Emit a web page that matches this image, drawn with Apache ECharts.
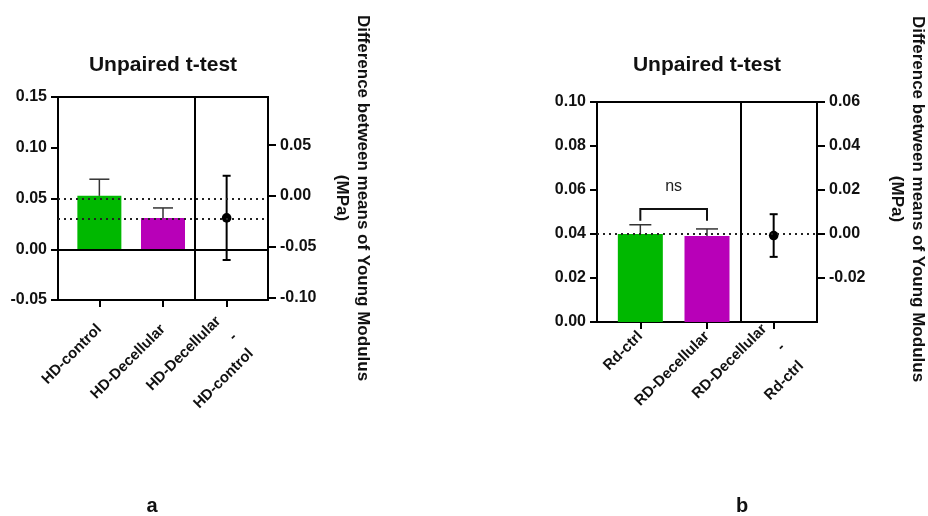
<!DOCTYPE html>
<html>
<head>
<meta charset="utf-8">
<title>Unpaired t-test</title>
<script src="https://cdn.jsdelivr.net/npm/echarts@6/dist/echarts.min.js"></script>
<style>
  html, body { margin: 0; padding: 0; background: #ffffff; }
  #chart-container { width: 928px; height: 516px; }
</style>
</head>
<body>
<div id="chart-container"></div>
<script>
// ---- data ----
// panel a
var panelACategories = ['HD-control', 'HD-Decellular', 'HD-Decellular\n-\nHD-control'];
var panelAMeans = [0.0526, 0.0309];
var panelAErrors = [0.0164, 0.0098];
var panelADiff = [-0.0217];
var panelADiffCI = [0.0415];
var panelALeftRange = [-0.05, 0.15];
var panelALeftStep = 0.05;
var panelARightTicks = [-0.10, -0.05, 0.00, 0.05];

// panel b
var panelBCategories = ['Rd-ctrl', 'RD-Decellular', 'RD-Decellular\n-\nRd-ctrl'];
var panelBMeans = [0.0400, 0.0391];
var panelBErrors = [0.0042, 0.0032];
var panelBDiff = [-0.0007];
var panelBDiffCI = [0.0097];
var panelBLeftRange = [0, 0.10];
var panelBLeftStep = 0.02;
var panelBRightTicks = [-0.02, 0.00, 0.02, 0.04, 0.06];
var panelBSigPair = [0, 1];
var panelBSigLevel = [0.046, 0.0514];
var panelBSigText = 'ns';

var axisTitle = 'Difference between means of Young Modulus\n(MPa)';
var FONT = 'Arial, "Liberation Sans", Helvetica, sans-serif';
var GREEN = '#00b800';
var MAGENTA = '#b800b8';

var dom = document.getElementById('chart-container');
var myChart = echarts.init(dom, null, { renderer: 'canvas' });

function fmt(v) {
  if (Math.abs(v) < 1e-9) return '0.00';
  return v.toFixed(2);
}

// group axis: one axis per set of labels so the long difference label
// is not dropped by overlap handling
function xCat(grid, cats, positions, margin, lineH, showLine) {
  return {
    type: 'value', gridIndex: grid, position: 'bottom', min: -0.65, max: 2.65,
    axisLine: { show: showLine, onZero: false, lineStyle: { color: '#000', width: 2 } },
    axisTick: { show: true, customValues: positions, length: 7, lineStyle: { color: '#000', width: 2 } },
    axisLabel: {
      customValues: positions, rotate: 45, margin: margin,
      showMinLabel: true, showMaxLabel: true,
      color: '#111', fontSize: 15, fontWeight: 'bold', fontFamily: FONT, lineHeight: lineH,
      formatter: function (v) {
        var s = cats[Math.round(v)];
        return s.indexOf('\n') >= 0 ? '\n' + s : s;
      }
    },
    splitLine: { show: false }
  };
}

function leftAxis(grid, range, step) {
  return {
    type: 'value', gridIndex: grid, position: 'left',
    min: range[0], max: range[1], interval: step,
    axisLine: { show: true, onZero: false, lineStyle: { color: '#000', width: 2 } },
    axisTick: { show: true, length: 7, lineStyle: { color: '#000', width: 2 } },
    axisLabel: { margin: 11, showMinLabel: true, showMaxLabel: true, color: '#111', fontSize: 16, fontWeight: 'bold', fontFamily: FONT, formatter: fmt },
    splitLine: { show: false }
  };
}

// right axis is the left one shifted so that 0 sits at the control mean
function rightAxis(grid, range, offset, ticks) {
  return {
    type: 'value', gridIndex: grid, position: 'right',
    min: range[0] - offset, max: range[1] - offset,
    axisLine: { show: true, onZero: false, lineStyle: { color: '#000', width: 2 } },
    axisTick: { show: true, customValues: ticks, length: 8, lineStyle: { color: '#000', width: 2 } },
    axisLabel: { customValues: ticks, margin: 12, showMinLabel: true, showMaxLabel: true, color: '#111', fontSize: 16, fontWeight: 'bold', fontFamily: FONT, formatter: fmt },
    splitLine: { show: false }
  };
}

function upErrorBars(capWidth) {
  return function (params, api) {
    var x = api.value(0), m = api.value(1), e = api.value(2);
    var b = api.coord([x, m]);
    var t = api.coord([x, m + e]);
    var st = { stroke: '#333', lineWidth: 1.5 };
    return {
      type: 'group',
      children: [
        { type: 'line', shape: { x1: b[0], y1: b[1], x2: t[0], y2: t[1] }, style: st },
        { type: 'line', shape: { x1: t[0] - capWidth / 2, y1: t[1], x2: t[0] + capWidth / 2, y2: t[1] }, style: st }
      ]
    };
  };
}

function estimationPoint(params, api) {
  var x = api.value(0), d = api.value(1), h = api.value(2);
  var c = api.coord([x, d]);
  var hi = api.coord([x, d + h]);
  var lo = api.coord([x, d - h]);
  var st = { stroke: '#000', lineWidth: 2 };
  return {
    type: 'group',
    children: [
      { type: 'line', shape: { x1: hi[0], y1: hi[1], x2: lo[0], y2: lo[1] }, style: st },
      { type: 'line', shape: { x1: hi[0] - 4, y1: hi[1], x2: hi[0] + 4, y2: hi[1] }, style: st },
      { type: 'line', shape: { x1: lo[0] - 4, y1: lo[1], x2: lo[0] + 4, y2: lo[1] }, style: st },
      { type: 'circle', shape: { cx: c[0], cy: c[1], r: 4.8 }, style: { fill: '#000' } }
    ]
  };
}

function sigBracket(params, api) {
  var a = api.value(0), b = api.value(1), leg = api.value(2), top = api.value(3);
  var p1 = api.coord([a, leg]), p2 = api.coord([a, top]);
  var p3 = api.coord([b, top]), p4 = api.coord([b, leg]);
  return {
    type: 'group',
    children: [
      { type: 'polyline', shape: { points: [p1, p2, p3, p4] }, style: { stroke: '#111', lineWidth: 2, fill: null } },
      { type: 'text', x: (p2[0] + p3[0]) / 2, y: p2[1] - 22,
        style: { text: panelBSigText, align: 'center', verticalAlign: 'middle', fill: '#222', font: '16px ' + FONT } }
    ]
  };
}

function meanLines(means, extra) {
  var data = means.map(function (m) {
    return { yAxis: m, lineStyle: { type: [2, 4], width: 2, color: '#222' } };
  });
  return data.concat(extra);
}

var solid = { type: 'solid', width: 2, color: '#000' };

var option = {
  animation: false,
  grid: [
    { left: 58, top: 97, width: 210, height: 203, show: true, borderColor: '#000', borderWidth: 2, backgroundColor: 'transparent' },
    { left: 597, top: 102, width: 220, height: 220, show: true, borderColor: '#000', borderWidth: 2, backgroundColor: 'transparent' }
  ],
  xAxis: [
    xCat(0, panelACategories, [0, 1], 27, 23, true),
    xCat(0, panelACategories, [2], 27, 23, false),
    xCat(1, panelBCategories, [0, 1], 12, 23, true),
    xCat(1, panelBCategories, [2], 14, 26, false)
  ],
  yAxis: [
    leftAxis(0, panelALeftRange, panelALeftStep),
    rightAxis(0, panelALeftRange, panelAMeans[0], panelARightTicks),
    leftAxis(1, panelBLeftRange, panelBLeftStep),
    rightAxis(1, panelBLeftRange, panelBMeans[0], panelBRightTicks)
  ],
  graphic: [
    { type: 'text', x: 163, y: 65, style: { text: 'Unpaired t-test', align: 'center', verticalAlign: 'middle', fill: '#111', font: 'bold 21px ' + FONT } },
    { type: 'text', x: 707, y: 65, style: { text: 'Unpaired t-test', align: 'center', verticalAlign: 'middle', fill: '#111', font: 'bold 21px ' + FONT } },
    { type: 'text', x: 352.5, y: 198, rotation: -Math.PI / 2,
      style: { text: axisTitle, align: 'center', verticalAlign: 'middle', lineHeight: 21, fill: '#111', font: 'bold 17px ' + FONT } },
    { type: 'text', x: 907, y: 199, rotation: -Math.PI / 2,
      style: { text: axisTitle, align: 'center', verticalAlign: 'middle', lineHeight: 21, fill: '#111', font: 'bold 17px ' + FONT } },
    { type: 'text', x: 152, y: 506, style: { text: 'a', align: 'center', verticalAlign: 'middle', fill: '#111', font: 'bold 20px ' + FONT } },
    { type: 'text', x: 742, y: 506, style: { text: 'b', align: 'center', verticalAlign: 'middle', fill: '#111', font: 'bold 20px ' + FONT } }
  ],
  series: [
    {
      type: 'bar', xAxisIndex: 0, yAxisIndex: 0, barWidth: 44,
      data: panelAMeans.map(function (m, i) {
        return { value: [i, m], itemStyle: { color: i === 0 ? GREEN : MAGENTA } };
      }),
      markLine: {
        silent: true, symbol: ['none', 'none'], label: { show: false },
        data: meanLines(panelAMeans, [
          { yAxis: 0, lineStyle: solid },
          { xAxis: 1.5, lineStyle: solid }
        ])
      }
    },
    {
      type: 'custom', xAxisIndex: 0, yAxisIndex: 0, renderItem: upErrorBars(20), z: 3,
      data: panelAMeans.map(function (m, i) { return [i, m, panelAErrors[i]]; })
    },
    {
      type: 'custom', xAxisIndex: 0, yAxisIndex: 1, renderItem: estimationPoint, z: 4,
      data: panelADiff.map(function (d, i) { return [2, d, panelADiffCI[i]]; })
    },
    {
      type: 'bar', xAxisIndex: 2, yAxisIndex: 2, barWidth: 45,
      data: panelBMeans.map(function (m, i) {
        return { value: [i, m], itemStyle: { color: i === 0 ? GREEN : MAGENTA } };
      }),
      markLine: {
        silent: true, symbol: ['none', 'none'], label: { show: false },
        data: meanLines(panelBMeans, [
          { xAxis: 1.5, lineStyle: solid }
        ])
      }
    },
    {
      type: 'custom', xAxisIndex: 2, yAxisIndex: 2, renderItem: upErrorBars(22), z: 3,
      data: panelBMeans.map(function (m, i) { return [i, m, panelBErrors[i]]; })
    },
    {
      type: 'custom', xAxisIndex: 2, yAxisIndex: 3, renderItem: estimationPoint, z: 4,
      data: panelBDiff.map(function (d, i) { return [2, d, panelBDiffCI[i]]; })
    },
    {
      type: 'custom', xAxisIndex: 2, yAxisIndex: 2, renderItem: sigBracket, z: 4,
      data: [[panelBSigPair[0], panelBSigPair[1], panelBSigLevel[0], panelBSigLevel[1]]]
    }
  ]
};

if (option && typeof option === 'object') {
  myChart.setOption(option);
}

window.addEventListener('resize', myChart.resize);
</script>
</body>
</html>
